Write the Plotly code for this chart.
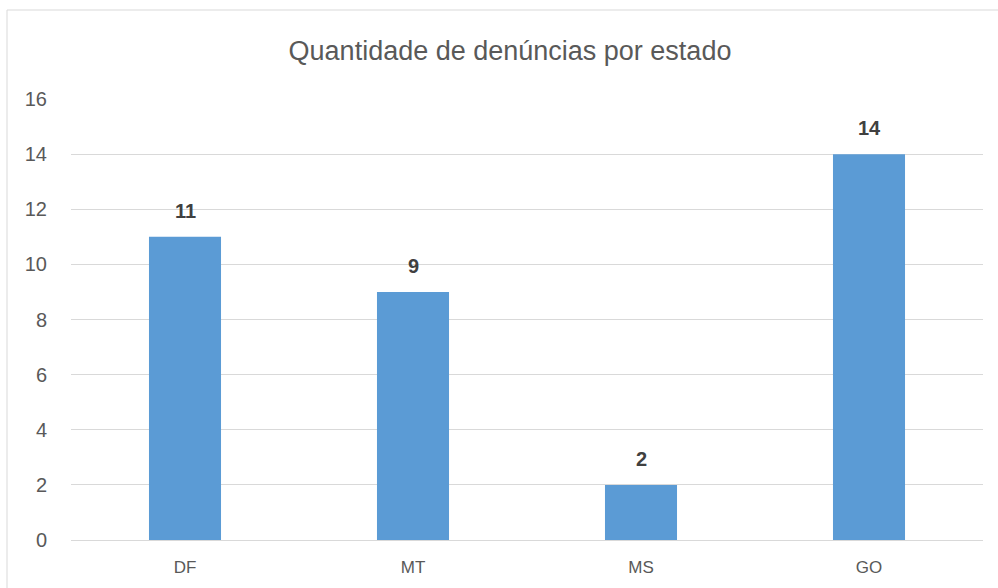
import plotly.graph_objects as go

title = "Quantidade de denúncias por estado"
categories = ["DF", "MT", "MS", "GO"]
values = [11, 9, 2, 14]
y_ticks = [0, 2, 4, 6, 8, 10, 12, 14, 16]

W, H = 998, 588
L, R, T, B = 71, 15, 99, 48
pw, ph = W - L - R, H - T - B

fig = go.Figure(go.Bar(
    x=categories, y=values, marker_color="#5b9bd5",
    marker_line_width=0, width=0.316,
))

for c, v in zip(categories, values):
    fig.add_annotation(x=c, y=v, text=f"<b>{v}</b>", showarrow=False,
                       yshift=26, font=dict(size=20, color="#404040"))

# chart border
fig.add_shape(type="rect", xref="paper", yref="paper",
              x0=(7 - L) / pw, x1=(W + 5 - L) / pw,
              y0=-(H + 5 - T - ph) / ph, y1=(H - B - 10) / ph,
              line=dict(color="#d9d9d9", width=1), layer="below")

fig.update_layout(
    width=W, height=H,
    margin=dict(l=L, r=R, t=T, b=B),
    paper_bgcolor="white", plot_bgcolor="white",
    font=dict(family="Liberation Sans, Arial, sans-serif", color="#595959"),
    title=dict(text=title, x=510 / W, xanchor="center", y=1 - 51 / H, yanchor="middle",
               font=dict(size=27, color="#595959")),
    showlegend=False,
    bargap=0.684,
)
fig.update_xaxes(showline=False, ticks="", tickfont=dict(size=17, color="#595959"),
                 showgrid=False, ticklabelstandoff=15)
fig.update_yaxes(range=[0, 16], tickvals=y_ticks, showgrid=True, gridcolor="#d9d9d9",
                 gridwidth=1, zeroline=True, zerolinecolor="#d9d9d9", zerolinewidth=1,
                 ticks="", ticklabelstandoff=23, tickfont=dict(size=20, color="#595959"))

fig.write_html("out.html", config={"displayModeBar": False},
               post_script="document.body.style.margin='0';document.body.style.overflow='hidden';")
